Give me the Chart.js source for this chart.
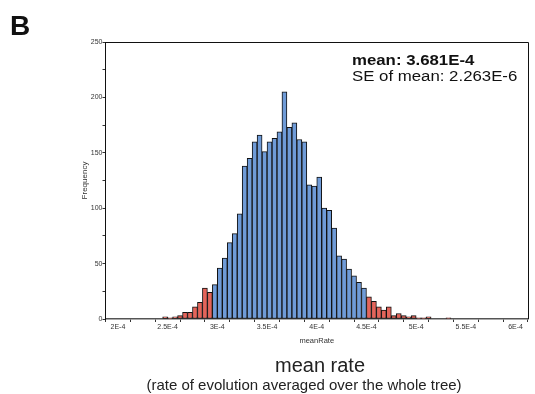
<!DOCTYPE html>
<html>
<head>
<meta charset="utf-8">
<script src="https://cdn.jsdelivr.net/npm/chart.js@4.4.0/dist/chart.umd.min.js"></script>
<style>
  html, body { margin: 0; padding: 0; background: #fff; }
  #wrap { position: relative; width: 535px; height: 394px; font-family: "Liberation Sans", Arial, sans-serif; color: #111; }
  canvas { position: absolute; left: 0; top: 0; }
  .lbl { position: absolute; line-height: 1; white-space: nowrap; }
</style>
</head>
<body>
<div id="wrap">
  <canvas id="hist" width="535" height="394"></canvas>
  <div class="lbl" style="left:10px;top:12px;font-size:28px;font-weight:bold;">B</div>
  <div class="lbl" style="left:352px;top:53px;font-size:14px;font-weight:bold;transform:scaleX(1.2);transform-origin:0 0;">mean: 3.681E-4</div>
  <div class="lbl" style="left:352px;top:69px;font-size:14px;transform:scaleX(1.2);transform-origin:0 0;">SE of mean: 2.263E-6</div>
  <div class="lbl" style="left:320px;top:355px;font-size:20px;color:#222;transform:translateX(-50%);">mean rate</div>
  <div class="lbl" style="left:304px;top:377px;font-size:15px;color:#222;transform:translateX(-50%);">(rate of evolution averaged over the whole tree)</div>
</div>
<script>
// meanRate histogram, x in units of 1E-4, each bin is 0.05E-4 wide
const binWidth = 0.05;
const binStart = [2.45, 2.50, 2.55, 2.60, 2.65, 2.70, 2.75, 2.80, 2.85, 2.90,
                  2.95, 3.00, 3.05, 3.10, 3.15, 3.20, 3.25, 3.30, 3.35, 3.40,
                  3.45, 3.50, 3.55, 3.60, 3.65, 3.70, 3.75, 3.80, 3.85, 3.90,
                  3.95, 4.00, 4.05, 4.10, 4.15, 4.20, 4.25, 4.30, 4.35, 4.40,
                  4.45, 4.50, 4.55, 4.60, 4.65, 4.70, 4.75, 4.80, 4.85, 4.90,
                  4.95, 5.00, 5.05, 5.10, 5.15, 5.20, 5.25, 5.30];
const frequency = [2, 1, 2, 3, 6, 6, 11, 15, 28, 24,
                   31, 46, 55, 69, 77, 95, 138, 145, 160, 166,
                   151, 160, 163, 169, 205, 173, 177, 162, 160, 121,
                   120, 128, 100, 98, 82, 57, 54, 45, 39, 33,
                   28, 20, 16, 11, 8, 11, 3, 5, 3, 2,
                   3, 1, 1, 2, 0, 0, 0, 1];
// 95% HPD interval: bars inside are blue, outside red
const hpdLower = 2.95;
const hpdUpper = 4.50;

const xTickValues = [2, 2.5, 3, 3.5, 4, 4.5, 5, 5.5, 6];
const xTickLabels = ['2E-4', '2.5E-4', '3E-4', '3.5E-4', '4E-4', '4.5E-4', '5E-4', '5.5E-4', '6E-4'];
const yTickValues = [0, 50, 100, 150, 200, 250];

const blue = '#6f9bd7';
const red = '#e4645a';

// top and right edges of the box around the plot
const frame = {
    id: 'frame',
    afterDraw(chart) {
        const { ctx, chartArea: a } = chart;
        ctx.save();
        ctx.strokeStyle = '#111';
        ctx.lineWidth = 1;
        ctx.beginPath();
        ctx.moveTo(a.left, Math.round(a.top) + 0.5);
        ctx.lineTo(Math.round(a.right) + 0.5, Math.round(a.top) + 0.5);
        ctx.lineTo(Math.round(a.right) + 0.5, a.bottom);
        ctx.stroke();
        ctx.restore();
    }
};

const ctx = document.getElementById('hist').getContext('2d');

const histChart = new Chart(ctx, {
    type: 'bar',
    data: {
        datasets: [{
            label: 'meanRate',
            data: binStart.map((b, i) => ({ x: b + binWidth / 2, y: frequency[i] })),
            backgroundColor: binStart.map(b => (b >= hpdLower && b < hpdUpper) ? blue : red),
            borderColor: '#111',
            borderWidth: 1,
            borderSkipped: false,
            barPercentage: 1,
            categoryPercentage: 1
        }]
    },
    options: {
        responsive: false,
        animation: false,
        devicePixelRatio: 1,
        layout: { padding: { left: 80, right: 7, top: 42, bottom: 49 } },
        plugins: {
            legend: { display: false },
            tooltip: { enabled: false }
        },
        scales: {
            x: {
                type: 'linear',
                min: 2,
                max: 6,
                afterFit: s => { s.height = 26; },
                ticks: {
                    stepSize: 0.25,
                    autoSkip: false,
                    maxRotation: 0,
                    padding: 1,
                    color: '#333',
                    font: { family: 'Liberation Sans', size: 7 },
                    callback: v => {
                        const i = xTickValues.indexOf(v);
                        return i >= 0 ? xTickLabels[i] : '';
                    }
                },
                grid: { drawOnChartArea: false, tickLength: 3, tickColor: '#333' },
                border: { color: '#555', width: 1.5 },
                title: {
                    display: true,
                    text: 'meanRate',
                    color: '#333',
                    padding: 0,
                    font: { family: 'Liberation Sans', size: 7.5 }
                }
            },
            y: {
                min: 0,
                max: 250,
                afterFit: s => { s.width = 25.5; },
                ticks: {
                    stepSize: 25,
                    padding: 0,
                    color: '#333',
                    font: { family: 'Liberation Sans', size: 7 },
                    callback: v => yTickValues.includes(v) ? v : ''
                },
                grid: { drawOnChartArea: false, tickLength: 3, tickColor: '#333' },
                border: { color: '#111', width: 1 },
                title: {
                    display: true,
                    text: 'Frequency',
                    color: '#333',
                    padding: 0,
                    font: { family: 'Liberation Sans', size: 8 }
                }
            }
        }
    },
    plugins: [frame]
});
</script>
</body>
</html>
